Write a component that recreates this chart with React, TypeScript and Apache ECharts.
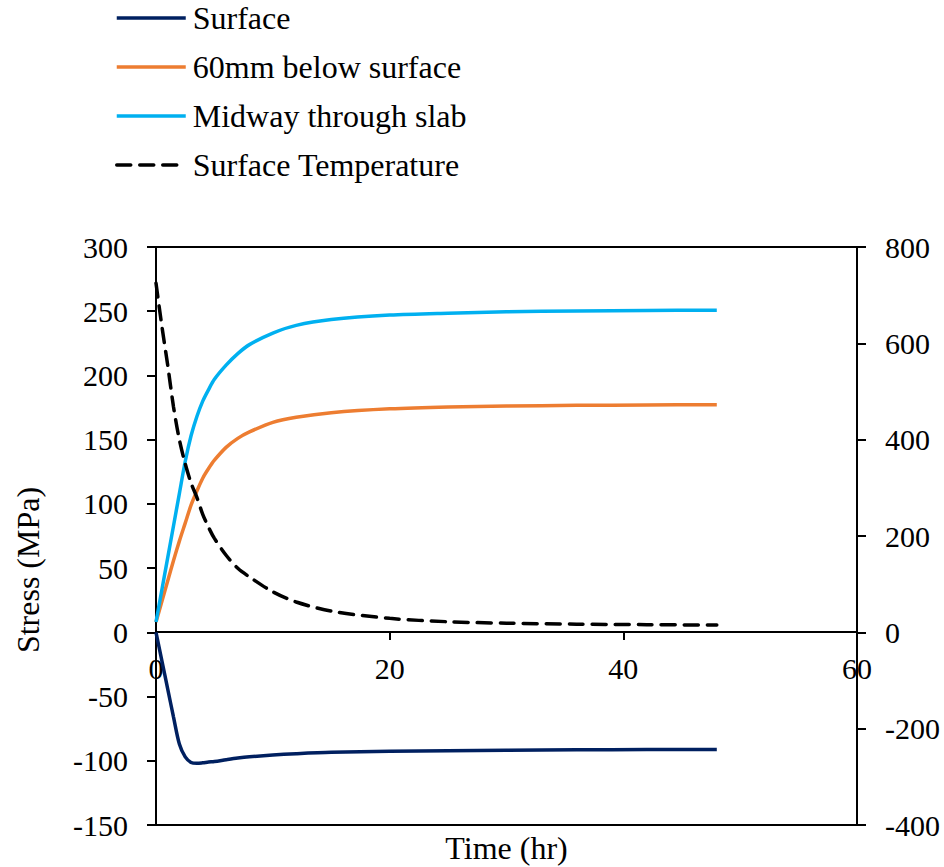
import React, { useEffect, useRef } from "react";
import * as echarts from "echarts";

const timeHr = [0, 0.5, 1, 1.5, 2, 2.5, 3, 3.5, 4, 4.5, 5, 6, 7, 8, 10, 12, 15, 20, 25, 30, 36, 42, 48];
const surface = [0, -22, -44, -66, -87, -97, -101.3, -102, -101.6, -101, -100.6, -99.2, -97.9, -96.9, -95.5, -94.5, -93.4, -92.6, -92.1, -91.8, -91.5, -91.3, -91.2];
const below60 = [8, 24, 40, 56, 71, 85, 99, 110, 120, 127.5, 134, 144, 151, 156, 163.5, 167.5, 171, 174, 175.5, 176.2, 176.7, 177, 177.2];
const midway = [8, 33, 58, 83, 108, 133, 153, 168, 180, 189, 197, 208, 217, 224, 233, 239, 243.5, 247, 248.5, 249.5, 250.2, 250.6, 250.8];
const surfTemp = [725, 636, 555, 468, 400, 350, 310, 280, 245, 218, 195, 160, 133, 115, 84, 63, 44, 29, 22, 19, 17, 16, 15];

const xTicks = { min: 0, max: 60, interval: 20 };
const leftTicks = { min: -150, max: 300, interval: 50 };
const rightTicks = { min: -400, max: 800, interval: 200 };

const FONT = "Liberation Serif, Times New Roman, serif";

const pairs = (ys: number[]) => timeHr.map((t, i) => [t, ys[i]]);

export default function App() {
  const ref = useRef<HTMLDivElement>(null);
  useEffect(() => {
    document.body.style.margin = "0";
    if (!ref.current) return;
    const chart = echarts.init(ref.current, null, { renderer: "svg" });
    const axisLine = { show: true, lineStyle: { color: "#000", width: 2 } };
    const axisLabel = { color: "#000", fontSize: 30, fontFamily: FONT };
    const mk = (name: string, data: number[], color: string, yAxisIndex: number, dashed = false) => ({
      name,
      type: "line",
      yAxisIndex,
      data: pairs(data),
      smooth: 0.3,
      showSymbol: false,
      symbol: "none",
      color,
      lineStyle: dashed
        ? { color, width: 3.5, type: [14, 9], cap: "round" }
        : { color, width: 3.5 },
    });
    chart.setOption({
      animation: false,
      backgroundColor: "#fff",
      grid: {
        left: 156,
        right: 87,
        top: 247,
        bottom: 42,
        outerBoundsMode: "none",
        containLabel: false,
        show: true,
        borderColor: "#000",
        borderWidth: 2,
        backgroundColor: "transparent",
      },
      legend: {
        orient: "vertical",
        left: 110,
        top: -3,
        itemWidth: 69,
        itemHeight: 14,
        itemGap: 17,
        itemStyle: { opacity: 0 },
        lineStyle: { width: 3.5 },
        textStyle: { color: "#000", fontSize: 32, fontFamily: FONT, lineHeight: 31, padding: [0, 0, 0, 2] },
        data: ["Surface", "60mm below surface", "Midway through slab", "Surface Temperature"],
      },
      graphic: [
        {
          type: "text",
          x: 28,
          y: 570,
          rotation: Math.PI / 2,
          style: {
            text: "Stress (MPa)",
            fill: "#000",
            fontSize: 32,
            fontFamily: FONT,
            align: "center",
            verticalAlign: "middle",
          },
        },
      ],
      xAxis: {
        type: "value",
        ...xTicks,
        name: "Time (hr)",
        nameLocation: "middle",
        nameGap: 200,
        nameTextStyle: { color: "#000", fontSize: 32, fontFamily: FONT },
        offset: -193,
        axisLine: { ...axisLine, onZero: false },
        axisTick: { show: true, length: 8, lineStyle: { color: "#000", width: 2 } },
        axisLabel: { ...axisLabel, margin: 21 },
        splitLine: { show: false },
      },
      yAxis: [
        {
          type: "value",
          ...leftTicks,
          position: "left",
          axisLine: { ...axisLine, onZero: false },
          axisTick: { show: true, length: 9, lineStyle: { color: "#000", width: 2 } },
          axisLabel: { ...axisLabel, margin: 28 },
          splitLine: { show: false },
        },
        {
          type: "value",
          ...rightTicks,
          position: "right",
          axisLine: { ...axisLine, onZero: false },
          axisTick: { show: true, length: 9, lineStyle: { color: "#000", width: 2 } },
          axisLabel: { ...axisLabel, margin: 28 },
          splitLine: { show: false },
        },
      ],
      series: [
        mk("Surface", surface, "#002060", 0),
        mk("60mm below surface", below60, "#ED7D31", 0),
        mk("Midway through slab", midway, "#00B0F0", 0),
        mk("Surface Temperature", surfTemp, "#000000", 1, true),
      ],
    });
    return () => chart.dispose();
  }, []);
  return <div ref={ref} style={{ width: 944, height: 867 }} />;
}
